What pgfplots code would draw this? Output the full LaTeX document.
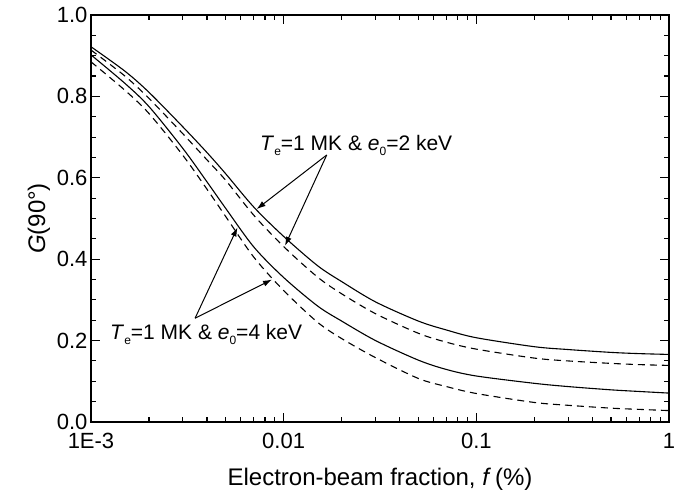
\documentclass[border=0pt]{standalone}
\usepackage{pgfplots}
\pgfplotsset{compat=1.18}
\usepackage{fontspec}
\setmainfont{Liberation Sans}
\usetikzlibrary{arrows.meta}

% small lowered subscript in the text font
\newcommand\lsub[1]{\raisebox{-0.5ex}{\fontsize{12}{12}\selectfont #1}}

\begin{document}
\begin{tikzpicture}
\begin{axis}[
  scale only axis,
  width=578pt, height=407pt,
  xmode=log,
  xmin=0.001, xmax=1,
  ymin=0, ymax=1,
  xtick={0.001,0.01,0.1,1},
  xticklabels={1E-3,0.01,0.1,1},
  ytick={0,0.2,0.4,0.6,0.8,1.0},
  yticklabel style={/pgf/number format/.cd,fixed,fixed zerofill,precision=1},
  minor y tick num=3,
  /pgf/number format/assume math mode=true,
  tick align=inside,
  major tick length=9pt,
  minor tick length=5pt,
  every tick/.style={line width=1.1pt, black},
  axis line style={line width=1.6pt},
  ticklabel style={font=\fontsize{22}{26}\selectfont},
  xticklabel style={yshift=-8pt},
  label style={font=\fontsize{24}{28}\selectfont},
  xlabel={Electron-beam fraction, \textit{f}\,(\%)},
  ylabel={\textit{G}(90°)},
  xlabel style={yshift=-12pt},
  clip=false,
]

% Te = 1 MK, e0 = 2 keV
\addplot[black, line width=1.1pt, smooth] coordinates {
  (0.001,0.922) (0.0015,0.862) (0.002,0.810) (0.003,0.725) (0.004,0.662)
  (0.005,0.610) (0.007,0.528) (0.01,0.456) (0.015,0.384) (0.02,0.345)
  (0.03,0.295) (0.05,0.248) (0.07,0.226) (0.1,0.207) (0.2,0.185)
  (0.3,0.178) (0.5,0.171) (0.7,0.168) (1,0.166)};
\addplot[black, line width=1.1pt, smooth, dash pattern=on 7pt off 5pt] coordinates {
  (0.001,0.914) (0.0015,0.850) (0.002,0.795) (0.003,0.708) (0.004,0.644)
  (0.005,0.594) (0.007,0.508) (0.01,0.431) (0.015,0.356) (0.02,0.315)
  (0.03,0.266) (0.05,0.218) (0.07,0.196) (0.1,0.179) (0.2,0.157)
  (0.3,0.150) (0.5,0.144) (0.7,0.141) (1,0.139)};

% Te = 1 MK, e0 = 4 keV
\addplot[black, line width=1.1pt, smooth] coordinates {
  (0.001,0.902) (0.0015,0.832) (0.002,0.775) (0.003,0.672) (0.004,0.590)
  (0.005,0.525) (0.007,0.430) (0.01,0.355) (0.015,0.285) (0.02,0.248)
  (0.03,0.200) (0.05,0.152) (0.07,0.129) (0.1,0.113) (0.2,0.095)
  (0.3,0.087) (0.5,0.079) (0.7,0.075) (1,0.071)};
\addplot[black, line width=1.1pt, smooth, dash pattern=on 7pt off 5pt] coordinates {
  (0.001,0.885) (0.0015,0.815) (0.002,0.758) (0.003,0.655) (0.004,0.572)
  (0.005,0.505) (0.007,0.405) (0.01,0.323) (0.015,0.245) (0.02,0.205)
  (0.03,0.158) (0.05,0.107) (0.07,0.087) (0.1,0.070) (0.2,0.048)
  (0.3,0.041) (0.5,0.034) (0.7,0.031) (1,0.028)};

% annotations
\node[anchor=base west, inner sep=0pt, font=\fontsize{21}{24}\selectfont]
  at (axis cs:0.00754,0.668) {\textit{T}\lsub{e}=1 MK \& \textit{e}\lsub{0}=2 keV};
\draw[-{Latex[length=9pt,width=6pt]}, line width=1pt]
  (axis cs:0.01673,0.656) -- (axis cs:0.00724,0.523);
\draw[-{Latex[length=9pt,width=6pt]}, line width=1pt]
  (axis cs:0.01673,0.656) -- (axis cs:0.01016,0.433);

\node[anchor=base west, inner sep=0pt, font=\fontsize{21}{24}\selectfont]
  at (axis cs:0.001255,0.203) {\textit{T}\lsub{e}=1 MK \& \textit{e}\lsub{0}=4 keV};
\draw[-{Latex[length=9pt,width=6pt]}, line width=1pt]
  (axis cs:0.00347,0.255) -- (axis cs:0.00576,0.478);
\draw[-{Latex[length=9pt,width=6pt]}, line width=1pt]
  (axis cs:0.00347,0.255) -- (axis cs:0.00870,0.350);
\end{axis}
\pgfresetboundingbox
\path[use as bounding box] (current axis.south west) ++(-91pt,-75pt) rectangle ([xshift=16pt,yshift=15pt]current axis.north east);
\end{tikzpicture}
\end{document}
